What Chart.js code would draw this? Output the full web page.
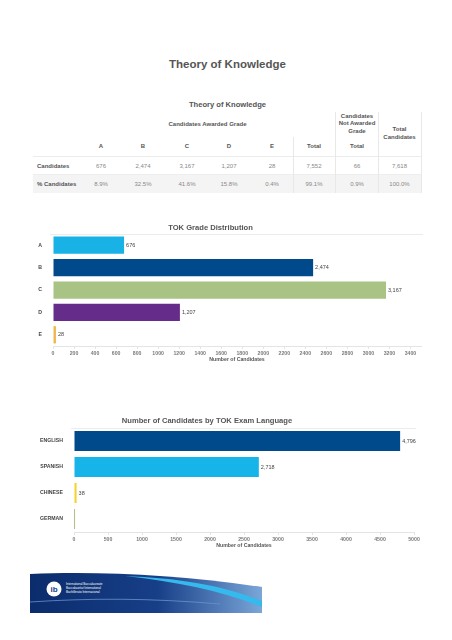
<!DOCTYPE html>
<html>
<head>
<meta charset="utf-8">
<script src="https://cdn.jsdelivr.net/npm/chart.js@4.4.1/dist/chart.umd.min.js"></script>
<style>
  html, body { margin: 0; padding: 0; background: #fff; }
  body { width: 452px; height: 640px; position: relative; overflow: hidden; font-family: "Liberation Sans", Arial, sans-serif; }
  .t { position: absolute; white-space: nowrap; line-height: 1; }
  .c { transform: translate(-50%, -50%); text-align: center; }
  .l { transform: translate(0, -50%); }
  .h { font-weight: bold; color: #555; font-size: 6px; }
  .v { color: #888; font-size: 6px; }
  .ml { line-height: 7.3px; }
  .box { position: absolute; }
  canvas { position: absolute; left: 0; }
</style>
</head>
<body>
<div id="page"></div>
<canvas id="gradeChart" width="452" height="155" style="top:215px"></canvas>
<canvas id="langChart" width="452" height="153" style="top:400px"></canvas>
<div style="position:absolute;left:30px;top:571px;">
<svg width="232" height="44" viewBox="0 0 232 44">
  <defs>
    <linearGradient id="bg" x1="0" x2="1" y1="0" y2="0">
      <stop offset="0" stop-color="#0b2c6c"/>
      <stop offset="0.55" stop-color="#173f88"/>
      <stop offset="1" stop-color="#7aa6d8"/>
    </linearGradient>
  </defs>
  <path d="M0,3 C70,0 150,4 232,16 L232,42 L0,42 Z" fill="url(#bg)"/>
  <path d="M95,5 C150,7 195,15 232,30 L232,36 C195,21 150,11 95,5 Z" fill="#36b9ec"/>
  <path d="M0,31 C60,27 120,27 190,33" stroke="#6a92cc" fill="none" stroke-width="0.8"/>
  <circle cx="24" cy="18" r="7.5" fill="#fff"/>
  <text x="24" y="21" font-size="8" font-weight="bold" fill="#143f8a" text-anchor="middle" font-family="Liberation Sans, Arial">ib</text>
  <text x="36" y="14" font-size="3" fill="#fff" font-family="Liberation Sans, Arial">International Baccalaureate</text>
  <text x="36" y="18" font-size="3" fill="#fff" font-family="Liberation Sans, Arial">Baccalauréat International</text>
  <text x="36" y="22" font-size="3" fill="#fff" font-family="Liberation Sans, Arial">Bachillerato Internacional</text>
</svg>
</div>
<script>
// ---------- data ----------
const pageTitle = "Theory of Knowledge";
const tableTitle = "Theory of Knowledge";
const gradeLetters = ["A", "B", "C", "D", "E"];
const gradeCounts = [676, 2474, 3167, 1207, 28];
const gradePercents = ["8.9%", "32.5%", "41.6%", "15.8%", "0.4%"];
const awardedTotal = 7552;
const awardedTotalPct = "99.1%";
const notAwardedTotal = 66;
const notAwardedPct = "0.9%";
const totalCandidates = 7618;
const totalCandidatesPct = "100.0%";
const rowLabels = ["Candidates", "% Candidates"];

const gradeColors = ["#19b2e6", "#004a8c", "#a8c383", "#652d89", "#f1b64b"];
const gradeTicks = [0, 200, 400, 600, 800, 1000, 1200, 1400, 1600, 1800, 2000, 2200, 2400, 2600, 2800, 3000, 3200, 3400];

const languages = ["ENGLISH", "SPANISH", "CHINESE", "GERMAN"];
const languageCounts = [4796, 2718, 38, 15];
const languageColors = ["#004a8c", "#16b4e9", "#f5d22a", "#6f7d1f"];
const languageTicks = [0, 500, 1000, 1500, 2000, 2500, 3000, 3500, 4000, 4500, 5000];

const fmt = n => n.toLocaleString("en-US");

// ---------- page / table ----------
const page = document.getElementById("page");
function place(text, x, y, cls, style) {
  const d = document.createElement("div");
  d.className = "t " + cls;
  d.style.left = x + "px";
  d.style.top = y + "px";
  if (style) Object.assign(d.style, style);
  d.innerHTML = text;
  page.appendChild(d);
  return d;
}
function box(x, y, w, h, bg) {
  const d = document.createElement("div");
  d.className = "box";
  Object.assign(d.style, { left: x + "px", top: y + "px", width: w + "px", height: h + "px", background: bg });
  page.appendChild(d);
}

// row backgrounds and borders
box(33, 174, 388, 19, "#f4f4f4");
box(33, 156, 388, 1, "#ececec");
box(33, 174, 388, 1, "#eeeeee");
box(293, 137, 1, 56, "#e8e8e8");
box(335, 112, 1, 81, "#e8e8e8");
box(378, 112, 1, 81, "#e8e8e8");
box(421, 112, 1, 81, "#e8e8e8");

place(pageTitle, 227.5, 65, "c", { fontWeight: "bold", fontSize: "11.5px", color: "#555" });
place(tableTitle, 227.5, 105, "c", { fontWeight: "bold", fontSize: "7.6px", color: "#555" });
place("Candidates Awarded Grade", 207.5, 124, "c h");
place("Candidates<br>Not Awarded<br>Grade", 357, 124, "c h ml");
place("Total<br>Candidates", 399.5, 134, "c h", { lineHeight: "7.6px" });

const colX = [101, 143, 187, 229, 272, 314, 357, 399.5];
const headerRow = gradeLetters.concat(["Total", "Total"]);
headerRow.forEach((t, i) => place(t, colX[i], 146, "c h"));

const countRow = gradeCounts.map(fmt).concat([fmt(awardedTotal), fmt(notAwardedTotal), fmt(totalCandidates)]);
const pctRow = gradePercents.concat([awardedTotalPct, notAwardedPct, totalCandidatesPct]);
place(rowLabels[0], 37, 165.5, "l h");
place(rowLabels[1], 37, 184, "l h");
countRow.forEach((t, i) => place(t, colX[i], 165.5, "c v"));
pctRow.forEach((t, i) => place(t, colX[i], 184, "c v"));

// ---------- charts ----------
Chart.defaults.font.family = '"Liberation Sans", Arial, sans-serif';
Chart.defaults.color = "#666";

const valueLabels = {
  id: "valueLabels",
  afterDatasetsDraw(chart, args, opts) {
    const ctx = chart.ctx;
    const meta = chart.getDatasetMeta(0);
    const data = chart.data.datasets[0].data;
    const a = chart.chartArea;
    ctx.save();
    ctx.strokeStyle = "#ececec";
    ctx.lineWidth = 1;
    ctx.beginPath();
    ctx.moveTo(a.left - 3, Math.round(a.top) + 0.5);
    ctx.lineTo(a.right + 2, Math.round(a.top) + 0.5);
    ctx.stroke();
    ctx.font = "5.5px " + Chart.defaults.font.family;
    ctx.fillStyle = "#444";
    ctx.textBaseline = "middle";
    ctx.textAlign = "left";
    meta.data.forEach((bar, i) => {
      if (data[i] < opts.minValue) return;
      ctx.fillText(fmt(data[i]), bar.x + 2, bar.y);
    });
    ctx.restore();
  }
};

function makeChart(id, labels, values, colors, ticks, max, title, titlePad, yWidth, xHeight, rightPad, axisTitlePad) {
  return new Chart(document.getElementById(id), {
    type: "bar",
    data: {
      labels: labels,
      datasets: [{ data: values, backgroundColor: colors, borderWidth: 0, categoryPercentage: 1, barPercentage: 0.77 }]
    },
    plugins: [valueLabels],
    options: {
      indexAxis: "y",
      responsive: false,
      animation: false,
      devicePixelRatio: 1,
      layout: { padding: { left: 0, right: rightPad, top: 0, bottom: 0 } },
      plugins: {
        legend: { display: false },
        tooltip: { enabled: false },
        title: { display: true, text: title, color: "#555", font: { size: 7.6, weight: "bold" }, padding: titlePad },
        valueLabels: { minValue: 20 }
      },
      scales: {
        x: {
          min: 0, max: max,
          afterBuildTicks: s => { s.ticks = ticks.map(v => ({ value: v })); },
          afterFit: s => { s.height = xHeight; },
          ticks: { font: { size: 5.2, weight: "bold" }, color: "#7a7a7a", padding: 1, maxRotation: 0, autoSkip: false,
                   callback: v => String(v) },
          grid: { drawOnChartArea: false, drawTicks: true, tickLength: 3, color: "#e4e4e4" },
          border: { display: true, color: "#e4e4e4" },
          title: { display: true, text: "Number of Candidates", color: "#555", font: { size: 5.2, weight: "bold" }, padding: { top: 0, bottom: axisTitlePad } }
        },
        y: {
          afterFit: s => { s.width = yWidth; },
          ticks: { font: { size: 5.2, weight: "bold" }, color: "#444", padding: 3 },
          grid: { display: false },
          border: { display: false }
        }
      }
    }
  });
}

makeChart("gradeChart", gradeLetters, gradeCounts, gradeColors, gradeTicks, 3500,
  "TOK Grade Distribution", { top: 8.4, bottom: 1.5 }, 53, 24, 31, 6.9);
makeChart("langChart", languages, languageCounts, languageColors, languageTicks, 5000,
  "Number of Candidates by TOK Exam Language", { top: 16.4, bottom: 2.5 }, 74, 21, 38, 4);
</script>
</body>
</html>
